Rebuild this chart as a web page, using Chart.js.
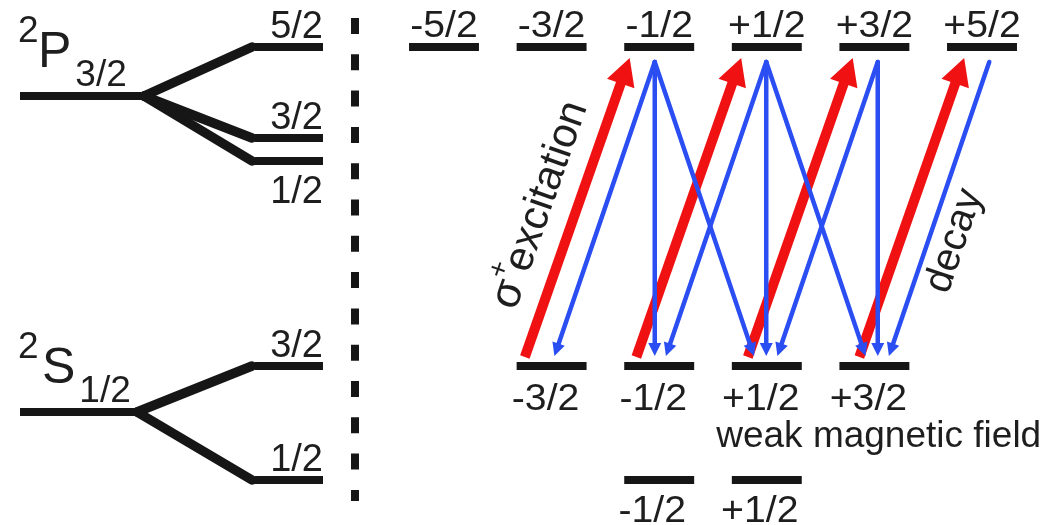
<!DOCTYPE html>
<html>
<head>
<meta charset="utf-8">
<script src="https://cdn.jsdelivr.net/npm/chart.js@4.4.1/dist/chart.umd.min.js"></script>
<style>
  html, body { margin: 0; padding: 0; background: #ffffff; }
  #wrap { width: 1056px; height: 525px; }
</style>
</head>
<body>
<div id="wrap"><canvas id="c" width="1056" height="525"></canvas></div>
<script>
// ---------- level scheme data (energies in arbitrary units) ----------
const termLetters = ['P', 'S'];
const termMultiplicity = ['2', '2'];
const termJ = ['3/2', '1/2'];
const termEnergy = [42.9, 11.3];

const hyperfineF = [['5/2', '3/2', '1/2'], ['3/2', '1/2']];
const hyperfineEnergy = [[47.8, 38.7, 36.4], [15.9, 4.5]];
const hyperfineLabelSide = [['above', 'above', 'below'], ['above', 'above']];

// Zeeman sublevels in a weak magnetic field
const upperM = [-2.5, -1.5, -0.5, 0.5, 1.5, 2.5];          // 2P3/2, F = 5/2
const upperMLabels = ['-5/2', '-3/2', '-1/2', '+1/2', '+3/2', '+5/2'];
const lowerM = [-1.5, -0.5, 0.5, 1.5];                      // 2S1/2, F = 3/2
const lowerMLabels = ['-3/2', '-1/2', '+1/2', '+3/2'];
const groundM = [-0.5, 0.5];                                // 2S1/2, F = 1/2
const groundMLabels = ['-1/2', '+1/2'];

// sigma+ excitation: [lower m, upper m]
const excitation = [[-1.5, -0.5], [-0.5, 0.5], [0.5, 1.5], [1.5, 2.5]];
// spontaneous decay: [upper m, lower m]
const decay = [
  [-0.5, -1.5], [-0.5, -0.5], [-0.5, 0.5],
  [0.5, -0.5], [0.5, 0.5], [0.5, 1.5],
  [1.5, 0.5], [1.5, 1.5],
  [2.5, 1.5]
];

// ---------- layout & styling ----------
const INK = '#161616', TXT = '#1e1e1e', RED = '#f01212', BLUE = '#2b4ef2';
const FONT = '"Liberation Sans", Arial, Helvetica, sans-serif';
const L = {
  termBar: [[1.0, 7.1], [1.0, 6.75]],   // xs axis
  splitStart: [7.2, 6.85],
  splitEnd: 12.6,
  subBar: [12.75, 16.15],
  divider: { x: 17.75, top: 50.7, bottom: 2.4 },
  zeemanHalf: 0.325,                    // xm axis (m units)
  redFrom: -0.165, redTo: -0.225,       // xa axis offsets (m units)
  decayLand: { '-1': 0.10, '0': 0, '1': -0.11 },
  gapRedStart: 0.9, gapRedTip: 1.1, gapBlueStart: 1.5, gapBlueTip: 1.0
};

const datasets = [];
function addLine(xAxisID, pts, style) {
  datasets.push(Object.assign({
    xAxisID, yAxisID: 'y',
    data: pts.map(p => ({ x: p[0], y: p[1] })),
    showLine: true, pointRadius: 0, pointHoverRadius: 0, fill: false,
    borderCapStyle: 'butt', borderJoinStyle: 'round'
  }, style));
}

// fine-structure terms and their hyperfine splitting
termEnergy.forEach((E, t) => {
  addLine('xs', [[L.termBar[t][0], E], [L.termBar[t][1], E]], { borderColor: INK, borderWidth: 8 });
  hyperfineEnergy[t].forEach(Ef => {
    addLine('xs', [[L.splitStart[t], E], [L.splitEnd, Ef]], { borderColor: INK, borderWidth: 9.5, borderCapStyle: 'round' });
    addLine('xs', [[L.subBar[0], Ef], [L.subBar[1], Ef]], { borderColor: INK, borderWidth: 8 });
  });
});

// dashed divider
addLine('xs', [[L.divider.x, L.divider.top], [L.divider.x, L.divider.bottom]],
  { borderColor: INK, borderWidth: 8, borderDash: [16, 20.3] });

// Zeeman sublevel bars
const zeemanRows = [
  [upperM, hyperfineEnergy[0][0]],
  [lowerM, hyperfineEnergy[1][0]],
  [groundM, hyperfineEnergy[1][1]]
];
zeemanRows.forEach(([ms, E]) => ms.forEach(m => {
  addLine('xm', [[m - L.zeemanHalf, E], [m + L.zeemanHalf, E]], { borderColor: INK, borderWidth: 8 });
}));

// excitation arrows (red)
const Eup = hyperfineEnergy[0][0], Elow = hyperfineEnergy[1][0];
excitation.forEach(([mLow, mUp]) => {
  addLine('xa', [[mLow + L.redFrom, Elow + L.gapRedStart], [mUp + L.redTo, Eup - L.gapRedTip]],
    { borderColor: RED, borderWidth: 10, head: { len: 27, width: 29, color: RED } });
});
// decay arrows (blue)
decay.forEach(([mUp, mLow]) => {
  const land = L.decayLand[String(mLow - mUp)];
  addLine('xa', [[mUp, Eup - L.gapBlueStart], [mLow + land, Elow + L.gapBlueTip]],
    { borderColor: BLUE, borderWidth: 4.5, borderCapStyle: 'round', head: { len: 13, width: 13, color: BLUE } });
});
datasets.forEach((d, i) => { d.order = -i; });

// ---------- plugins ----------
const tips = new Map();
const arrowHeads = {
  id: 'arrowHeads',
  afterDatasetsUpdate(chart) {
    tips.clear();
    chart.data.datasets.forEach((ds, i) => {
      if (!ds.head) return;
      const pts = chart.getDatasetMeta(i).data;
      const a = pts[pts.length - 2], b = pts[pts.length - 1];
      const dx = b.x - a.x, dy = b.y - a.y, len = Math.hypot(dx, dy);
      const ux = dx / len, uy = dy / len;
      tips.set(i, { x: b.x, y: b.y, ux, uy, start: { x: a.x, y: a.y } });
      b.x -= ux * ds.head.len * 0.8;
      b.y -= uy * ds.head.len * 0.8;
    });
  },
  afterDatasetsDraw(chart) {
    const ctx = chart.ctx;
    chart.data.datasets.forEach((ds, i) => {
      if (!ds.head) return;
      const t = tips.get(i), h = ds.head;
      const bx = t.x - t.ux * h.len, by = t.y - t.uy * h.len;
      ctx.save();
      ctx.fillStyle = h.color;
      ctx.beginPath();
      ctx.moveTo(t.x, t.y);
      ctx.lineTo(bx - t.uy * h.width / 2, by + t.ux * h.width / 2);
      ctx.lineTo(bx + t.uy * h.width / 2, by - t.ux * h.width / 2);
      ctx.closePath();
      ctx.fill();
      ctx.restore();
    });
  }
};

function text(ctx, str, x, y, o) {
  ctx.save();
  ctx.font = o.font;
  ctx.fillStyle = o.color || TXT;
  ctx.textAlign = o.align || 'left';
  ctx.textBaseline = 'alphabetic';
  ctx.translate(x, y);
  if (o.rotate) ctx.rotate(o.rotate);
  if (o.sx) ctx.scale(o.sx, 1);
  ctx.fillText(str, 0, 0);
  ctx.restore();
}

const labels = {
  id: 'labels',
  afterDraw(chart) {
    const ctx = chart.ctx, s = chart.scales;
    const X = v => s.xs.getPixelForValue(v), M = v => s.xm.getPixelForValue(v), Y = v => s.y.getPixelForValue(v);
    const big = '50px ' + FONT, mid = '37px ' + FONT, lab = '38px ' + FONT;

    // term symbols  2S+1 L J
    termLetters.forEach((letter, t) => {
      const x0 = X(L.termBar[t][0]), y0 = Y(termEnergy[t]);
      text(ctx, termMultiplicity[t], x0 - 2, y0 - 54, { font: mid });
      const lx = x0 + (t === 0 ? 18 : 22);
      text(ctx, letter, lx, y0 - 29, { font: big });
      ctx.font = big;
      const w = ctx.measureText(letter).width;
      text(ctx, termJ[t], lx + w + 4, y0 - 10, { font: mid });
    });

    // hyperfine F labels
    hyperfineF.forEach((row, t) => row.forEach((f, k) => {
      const y = Y(hyperfineEnergy[t][k]);
      const dy = hyperfineLabelSide[t][k] === 'above' ? -9 : 42;
      text(ctx, f, X(L.subBar[1]), y + dy, { font: lab, align: 'right' });
    }));

    // magnetic sublevel labels
    upperM.forEach((m, k) => text(ctx, upperMLabels[k], M(m), Y(Eup) - 10, { font: mid, align: 'center', sx: 1.06 }));
    lowerM.forEach((m, k) => text(ctx, lowerMLabels[k], M(m) - 6, Y(Elow) + 44, { font: mid, align: 'center', sx: 1.06 }));
    groundM.forEach((m, k) => text(ctx, groundMLabels[k], M(m) - 7, Y(hyperfineEnergy[1][1]) + 42, { font: mid, align: 'center', sx: 1.06 }));

    text(ctx, 'weak magnetic field', M(0.03), Y(7.8), { font: mid });

    // annotation along the first excitation arrow
    const ex = tips.get(datasets.findIndex(d => d.head && d.borderColor === RED));
    if (ex) {
      const ux = ex.x - ex.start.x, uy = ex.y - ex.start.y, n = Math.hypot(ux, uy);
      const u = [ux / n, uy / n], left = [u[1], -u[0]];
      const ang = Math.atan2(u[1], u[0]);
      const px = ex.start.x + u[0] * 40 + left[0] * 24, py = ex.start.y + u[1] * 40 + left[1] * 24;
      ctx.save();
      ctx.translate(px, py);
      ctx.rotate(ang);
      ctx.fillStyle = TXT;
      ctx.font = '44px ' + FONT;
      ctx.fillText('σ', 0, 0);
      const ws = ctx.measureText('σ').width;
      ctx.font = '28px ' + FONT;
      ctx.fillText('+', ws - 1, -21);
      const wp = ctx.measureText('+').width;
      ctx.font = '42px ' + FONT;
      ctx.fillText('excitation', ws + wp - 4, 0);
      ctx.restore();
    }
    // annotation along the last decay arrow
    let lastBlue = -1;
    datasets.forEach((d, i) => { if (d.head && d.borderColor === BLUE) lastBlue = i; });
    const dc = tips.get(lastBlue);
    if (dc) {
      const ux = dc.start.x - dc.x, uy = dc.start.y - dc.y, n = Math.hypot(ux, uy);
      const u = [ux / n, uy / n], left = [u[1], -u[0]];
      const ang = Math.atan2(u[1], u[0]);
      const px = dc.x + u[0] * 130 - left[0] * 36, py = dc.y + u[1] * 130 - left[1] * 36;
      text(ctx, 'decay', px, py, { font: '40px ' + FONT, align: 'center', rotate: ang });
    }
  }
};

new Chart(document.getElementById('c'), {
  type: 'scatter',
  data: { datasets },
  options: {
    responsive: false,
    animation: false,
    events: [],
    devicePixelRatio: 1,
    layout: { padding: 0 },
    plugins: { legend: { display: false }, tooltip: { enabled: false } },
    scales: {
      xs: { type: 'linear', position: 'bottom', display: false, min: 0, max: 52.8 },
      xm: { type: 'linear', position: 'bottom', display: false, min: -6.6264, max: 3.1877 },
      xa: { type: 'linear', position: 'bottom', display: false, min: -6.3722, max: 3.0987 },
      y: { type: 'linear', display: false, min: 0, max: 52.5 }
    }
  },
  plugins: [arrowHeads, labels]
});
</script>
</body>
</html>
